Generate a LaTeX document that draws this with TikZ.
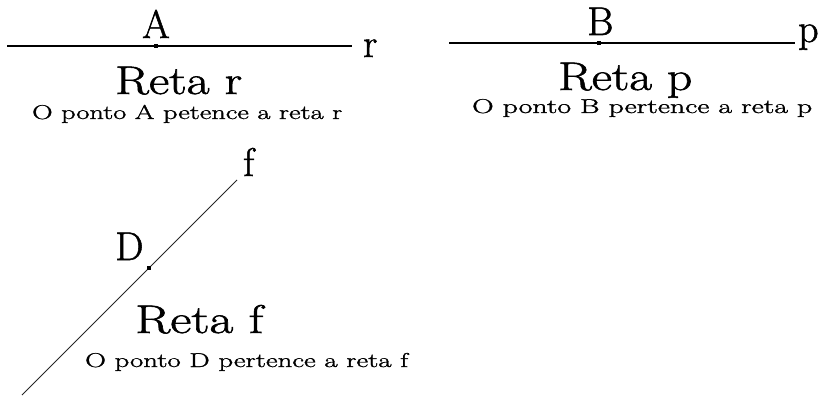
\documentclass[tikz,border=0pt]{standalone}
\usepackage{graphicx}
\usepackage{fontspec}
\setmainfont{Latin Modern Roman}[BoldFont={Latin Modern Roman}, BoldFeatures={FakeBold=1.3}]
\begin{document}
\begin{tikzpicture}[x=1pt,y=-1pt]
\tikzset{
  lbl/.style={inner sep=0pt, anchor=base west, font=\fontsize{40}{40}\selectfont\bfseries},
  small/.style={inner sep=0pt, anchor=base west, font=\fontsize{20}{20}\selectfont\bfseries},
  dotpt/.style={fill, inner sep=0pt, minimum size=3.5pt, rectangle},
  ln/.style={line width=1.2pt},
  lnd/.style={line width=0.9pt, black!85}
}
\useasboundingbox (0,0) rectangle (824,398);
% line r
\coordinate (r1) at (7,46);
\coordinate (r2) at (352,46);
\draw[ln] (r1) -- (r2);
\node[dotpt] (A) at (156,46) {};
\node[lbl] (lA) at (142,38) {A};
\node[lbl] (lr) at (363,57) {r};
\node[lbl] (tr) at (115,94) {\resizebox{127pt}{\height}{Reta r}};
\node[small] (sr) at (32,119) {\resizebox{310pt}{\height}{O ponto A petence a reta r}};
% line p
\coordinate (p1) at (449,43);
\coordinate (p2) at (795,43);
\draw[ln] (p1) -- (p2);
\node[dotpt] (B) at (599,43) {};
\node[lbl] (lB) at (587,35) {B};
\node[lbl] (lp) at (798,42) {p};
\node[lbl] (tp) at (558,90) {\resizebox{134pt}{\height}{Reta p}};
\node[small] (sp) at (472,113) {\resizebox{340pt}{\height}{O ponto B pertence a reta p}};
% line f
\coordinate (f1) at (22,395);
\coordinate (f2) at (237,180);
\draw[lnd] (f1) -- (f2);
\node[dotpt] (D) at (149,268) {};
\node[lbl] (lD) at (115,260) {D};
\node[lbl] (lf) at (243,176) {f};
\node[lbl] (tf) at (135,333) {\resizebox{128pt}{\height}{Reta f}};
\node[small] (sf) at (85,367) {\resizebox{323pt}{\height}{O ponto D pertence a reta f}};
\end{tikzpicture}
\end{document}
